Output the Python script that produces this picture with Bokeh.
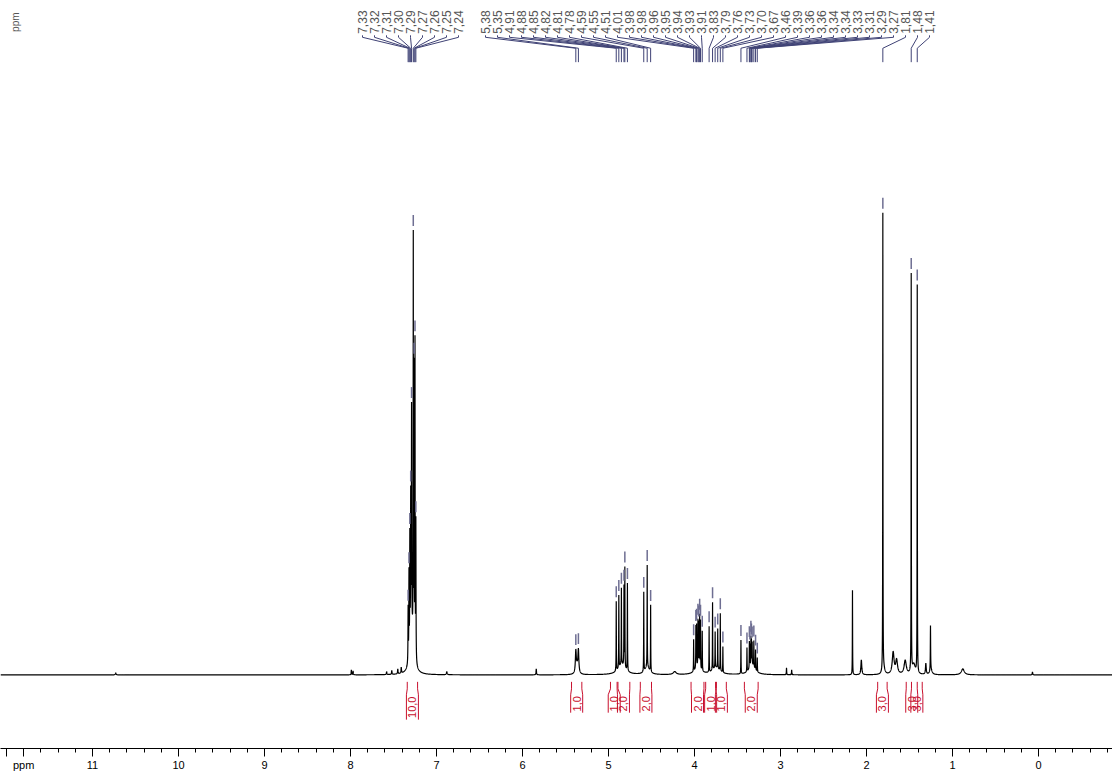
import numpy as np
from bokeh.plotting import figure
from bokeh.models import Range1d, FixedTicker
from bokeh.embed import file_html
from bokeh.resources import INLINE
from bokeh.core.properties import value

# ---------------- data ----------------
# picked peaks (labels shown at the top, Bruker style with decimal comma)
arom_labels = ["7,33", "7,32", "7,31", "7,30", "7,29", "7,27", "7,26", "7,25", "7,24"]
arom_ppm = [7.33, 7.32, 7.31, 7.30, 7.29, 7.27, 7.26, 7.25, 7.24]

aliph_labels = ["5,38", "5,35", "4,91", "4,88", "4,85", "4,82", "4,81", "4,78",
                "4,59", "4,55", "4,51", "4,01", "3,98", "3,98", "3,96", "3,95",
                "3,94", "3,93", "3,91", "3,83", "3,79", "3,76", "3,73", "3,70",
                "3,67", "3,46", "3,39", "3,36", "3,36", "3,34", "3,34", "3,33",
                "3,31", "3,29", "3,27", "1,81", "1,48", "1,41"]
aliph_ppm = [5.38, 5.35, 4.91, 4.88, 4.85, 4.82, 4.81, 4.78,
             4.59, 4.55, 4.51, 4.01, 3.984, 3.976, 3.96, 3.95,
             3.94, 3.93, 3.91, 3.83, 3.79, 3.76, 3.73, 3.70,
             3.67, 3.46, 3.39, 3.362, 3.356, 3.344, 3.338, 3.33,
             3.31, 3.29, 3.27, 1.81, 1.48, 1.41]

# spectrum lines: position (ppm), height (px above baseline), line width (ppm)
line_ppm = [10.73, 7.99, 7.97, 7.58, 7.52, 7.45, 7.41,
            7.33, 7.32, 7.31, 7.30, 7.29, 7.27, 7.26, 7.25, 7.24, 7.285,
            6.88, 5.84,
            5.38, 5.35, 5.365,
            4.91, 4.88, 4.85, 4.82, 4.81, 4.78, 4.845,
            4.59, 4.55, 4.51, 4.55,
            4.23,
            4.01, 3.984, 3.976, 3.96, 3.95, 3.94, 3.93, 3.91, 3.96,
            3.83, 3.79, 3.76, 3.73, 3.70, 3.67, 3.75,
            3.46,
            3.39, 3.362, 3.356, 3.344, 3.338, 3.33, 3.31, 3.29, 3.27, 3.33,
            2.93, 2.87,
            2.163, 2.06,
            1.81, 1.80,
            1.69, 1.65, 1.55,
            1.48, 1.41, 1.45,
            1.31, 1.256, 1.25,
            0.88, 0.07]
line_h = [2, 5, 4, 3, 4, 5, 6,
          55, 85, 115, 145, 225, 406, 280, 313, 140, 40,
          3, 6,
          21, 22, 8,
          70, 73, 77, 80, 100, 88, 10,
          80, 102, 67, 8,
          3,
          32, 42, 42, 46, 44, 52, 48, 40, 8,
          46, 68, 36, 40, 58, 26, 7,
          34,
          24, 26, 22, 28, 24, 22, 26, 20, 14, 10,
          7, 5,
          85, 15,
          460, 6,
          22, 14, 14,
          400, 390, 10,
          11, 45, 5,
          6, 3]
line_w = [0.01, 0.005, 0.005, 0.006, 0.006, 0.006, 0.006,
          0.004, 0.004, 0.004, 0.004, 0.004, 0.003, 0.003, 0.003, 0.004, 0.05,
          0.01, 0.006,
          0.012, 0.012, 0.03,
          0.003, 0.003, 0.003, 0.003, 0.003, 0.003, 0.1,
          0.003, 0.003, 0.003, 0.06,
          0.04,
          0.003, 0.003, 0.003, 0.003, 0.003, 0.003, 0.003, 0.003, 0.08,
          0.003, 0.003, 0.003, 0.003, 0.003, 0.003, 0.1,
          0.003,
          0.003, 0.003, 0.003, 0.003, 0.003, 0.003, 0.003, 0.003, 0.003, 0.08,
          0.004, 0.004,
          0.003, 0.012,
          0.003, 0.03,
          0.025, 0.025, 0.03,
          0.003, 0.003, 0.04,
          0.01, 0.004, 0.03,
          0.04, 0.006]

# integrals: region start, region end (ppm), value
int_start = [7.34, 5.43, 4.977, 4.90, 4.63, 4.04, 3.87, 3.745, 3.42, 1.87, 1.538, 1.477]
int_end = [7.22, 5.31, 4.89, 4.752, 4.50, 3.89, 3.755, 3.63, 3.26, 1.76, 1.41, 1.352]
int_text = ["10,0", "1,0", "1,0", "2,0", "2,0", "2,0", "1,0", "1,0", "2,0", "3,0", "3,0", "3,0"]

# axis: labelled ticks at whole ppm, unit name at the left end
major_ticks = list(range(0, 13)) + [11.8]
tick_label_overrides = {12: "", 11.8: "ppm"}
minor_ticks = [round(-0.8 + 0.2 * i, 1) for i in range(65)]
minor_ticks = [t for t in minor_ticks if t != 11.8]

# ---------------- layout helpers (page pixels -> data) ----------------
W, H = 1112, 773
PXPP = 86.0                      # pixels per ppm
X0 = 1038 / PXPP                 # ppm at left edge
X1 = X0 - W / PXPP               # ppm at right edge


def ppm_at(px):                  # page x (px) -> ppm
    return X0 - px / PXPP


def px_at(ppm):
    return (X0 - ppm) * PXPP


BASE = 678                       # page y of the spectrum baseline


def yd(py):                      # page y (px) -> data y (px above baseline)
    return BASE - py


AXIS_SIZE = 21
p = figure(width=W, height=H, output_backend="svg", toolbar_location=None,
           x_range=Range1d(X0, X1), y_range=Range1d(yd(H - AXIS_SIZE), yd(0)),
           min_border=0, min_border_left=0, min_border_right=0,
           min_border_top=0, min_border_bottom=0, y_axis_location=None)
p.outline_line_color = None
p.grid.visible = False
p.background_fill_color = "white"
p.border_fill_color = "white"

ax = p.xaxis[0]
ax.ticker = FixedTicker(ticks=major_ticks, minor_ticks=minor_ticks)
ax.major_label_overrides = tick_label_overrides
ax.major_tick_out = 8
ax.major_tick_in = 0
ax.minor_tick_out = 4
ax.minor_tick_in = 0
ax.major_label_standoff = 2
ax.major_label_text_font = "Liberation Sans"
ax.major_label_text_font_size = "11px"
ax.major_label_text_color = "black"
ax.axis_line_color = "black"
ax.major_tick_line_color = "black"
ax.minor_tick_line_color = "black"

# ---------------- spectrum ----------------
n0 = int(np.floor(X1 * 1000))
n1 = int(np.ceil(X0 * 1000))
grid = np.round(np.arange(n0, n1 + 1) * 0.001, 3)
spec = np.zeros_like(grid)
for c, h, w in zip(line_ppm, line_h, line_w):
    spec += h / (1.0 + ((grid - c) / (w / 2.0)) ** 2)
p.line(grid, spec, line_color="black", line_width=1.2)


def top_at(ppm):
    i = int(round(ppm * 1000)) - n0
    return spec[max(i - 2, 0):i + 3].max()


# ---------------- peak labels and leader lines ----------------
lab_col = "#555555"
lead_col = "#3f4275"
groups = [(arom_labels, arom_ppm, 362), (aliph_labels, aliph_ppm, 485)]
lx, ly, lt = [], [], []
xs, ys = [], []
mx, my0, my1 = [], [], []
for labels, ppms, start in groups:
    for i, (t, pp) in enumerate(zip(labels, ppms)):
        xpx = start + 12 * i
        lx.append(ppm_at(xpx))
        ly.append(yd(10))
        lt.append(t)
        xs.append([ppm_at(xpx), ppm_at(xpx), pp, pp])
        ys.append([yd(35), yd(37), yd(48), yd(62)])
        tp = top_at(pp)
        mx.append(pp)
        my0.append(tp + 4)
        my1.append(tp + 15)

p.text(lx, ly, text=lt, angle=np.pi / 2, text_align="right", text_baseline="middle",
       text_font=value("Liberation Sans"), text_font_size="12px", text_color=lab_col)
p.multi_line(xs, ys, line_color=lead_col, line_width=1)
p.segment(mx, my0, mx, my1, line_color="#6e6e92", line_width=1.5)

# top-left unit text
p.text([ppm_at(15)], [yd(12)], text=["ppm"], angle=np.pi / 2, text_align="right",
       text_baseline="middle", text_font=value("Liberation Sans"),
       text_font_size="10px", text_color=lab_col)

# ---------------- integrals ----------------
red = "#c8102e"
ixs, iys = [], []
tx, ty, tt = [], [], []
for s, e, t in zip(int_start, int_end, int_text):
    cpx = (px_at(s) + px_at(e)) / 2
    clen = 7.0 * len(t) - 3
    bot = -20 - clen
    ixs.append([s, s, ppm_at(cpx - 6), ppm_at(cpx - 6)])
    iys.append([-7, -14, -20, bot])
    ixs.append([e, e, ppm_at(cpx + 6), ppm_at(cpx + 6)])
    iys.append([-7, -14, -20, bot])
    tx.append(ppm_at(cpx))
    ty.append((-20 + bot) / 2)
    tt.append(t)
p.multi_line(ixs, iys, line_color=red, line_width=1)
p.text(tx, ty, text=tt, angle=np.pi / 2, text_align="center", text_baseline="middle",
       text_font=value("Liberation Sans"), text_font_size="11px", text_color=red)

open("out.html", "w").write(file_html(p, INLINE))
